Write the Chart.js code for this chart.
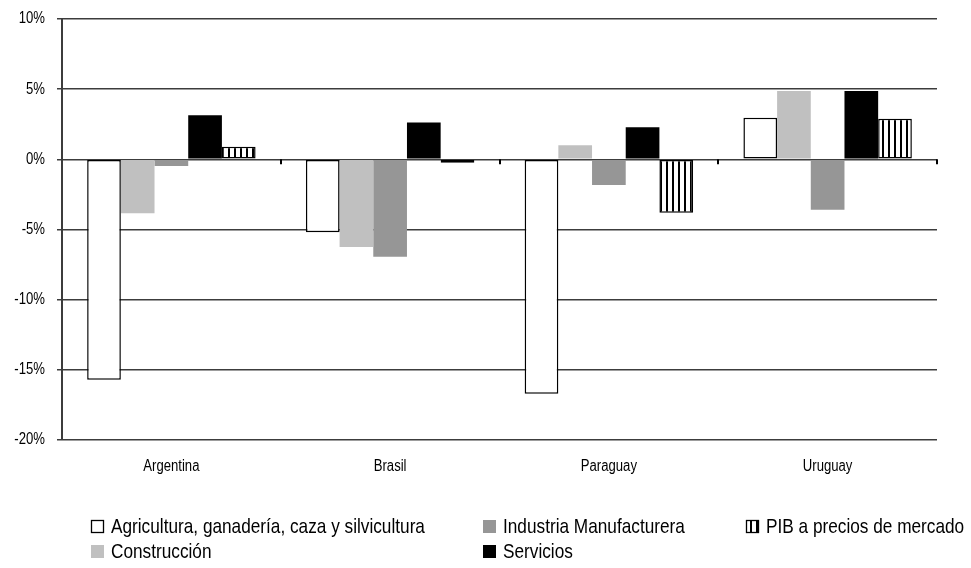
<!DOCTYPE html>
<html>
<head>
<meta charset="utf-8">
<script src="https://cdn.jsdelivr.net/npm/chart.js@4/dist/chart.umd.min.js"></script>
<style>
  html, body { margin: 0; padding: 0; background: #fff; }
  #wrap { width: 971px; height: 568px; }
</style>
</head>
<body>
<div id="wrap"><canvas id="chart" width="971" height="568"></canvas></div>
<script>
// data (growth rates, %)
const countries = ['Argentina', 'Brasil', 'Paraguay', 'Uruguay'];

const agricultura = [-15.7, -5.2, -16.7, 2.97];
const construccion = [-3.85, -6.25, 1.0, 4.87];
const industria = [-0.48, -6.95, -1.83, -3.6];
const servicios = [3.15, 2.63, 2.28, 4.87];
const pib = [0.9, -0.24, -3.8, 2.9];

const yTicks = [10, 5, 0, -5, -10, -15, -20];

// no Arial Narrow here, so squeeze Liberation Sans sideways
const FONT = "'Liberation Sans', Arial, sans-serif";
const SQUEEZE = 0.82;

function narrowText(ctx, text, x, y, size, align){
	ctx.save();
	ctx.font = size + 'px ' + FONT;
	ctx.textBaseline = 'middle';
	ctx.textAlign = align;
	ctx.translate(x, y);
	ctx.scale(SQUEEZE, 1);
	ctx.fillStyle = '#000';
	ctx.fillText(text, 0, 0);
	ctx.restore();
}

// vertical stripe fill for PIB
function stripes(){
	let c = document.createElement('canvas');
	c.width = 6; c.height = 6;
	let g = c.getContext('2d');
	g.fillStyle = '#fff';
	g.fillRect(0, 0, 6, 6);
	g.fillStyle = '#000';
	g.fillRect(0, 0, 2, 6);
	return document.getElementById('chart').getContext('2d').createPattern(c, 'repeat');
}
let pibFill = stripes();

// legend laid out in columns, like the original
const legendCols = [
	[0, 1],   // Agricultura, Construcción
	[2, 3],   // Industria, Servicios
	[4]       // PIB
];
const colX = [91, 483, 746];

const textPlugin = {
	id: 'texts',
	afterDraw(chart){
		let ctx = chart.ctx;
		let ys = chart.scales.y;
		let xs = chart.scales.x;

		// y tick labels
		yTicks.forEach(v => {
			narrowText(ctx, v + '%', xs.left - 17, ys.getPixelForValue(v), 16, 'right');
		});

		// category labels
		countries.forEach((c, i) => {
			narrowText(ctx, c, xs.getPixelForValue(i), chart.chartArea.bottom + 27, 16, 'center');
		});

		// legend
		let ds = chart.data.datasets;
		let top = chart.chartArea.bottom + 87;
		legendCols.forEach((col, ci) => {
			col.forEach((di, row) => {
				let d = ds[di];
				let x = colX[ci];
				let y = top + row * 25;
				ctx.save();
				ctx.fillStyle = d.backgroundColor;
				ctx.fillRect(x, y - 7, 13, 13);
				if (d.borderWidth){
					ctx.strokeStyle = '#000';
					ctx.lineWidth = 1.3;
					ctx.strokeRect(x + 0.5, y - 6.5, 12, 12);
				}
				ctx.restore();
				narrowText(ctx, d.label, x + 20, y, 21, 'left');
			});
		});
	}
};

// small tick marks on the zero line at category borders
const zeroTicks = {
	id: 'zeroTicks',
	afterDatasetsDraw(chart){
		let ctx = chart.ctx;
		let xs = chart.scales.x;
		let y0 = chart.scales.y.getPixelForValue(0);
		ctx.save();
		ctx.strokeStyle = '#000';
		ctx.lineWidth = 2;
		for (let i = 1; i <= countries.length; i++){
			let x = Math.round(xs.left + (xs.right - xs.left) * i / countries.length);
			ctx.beginPath();
			ctx.moveTo(x, y0);
			ctx.lineTo(x, y0 + 5);
			ctx.stroke();
		}
		ctx.restore();
	}
};

let chart = new Chart(document.getElementById('chart'), {
	type: 'bar',
	data: {
		labels: countries,
		datasets: [
			{ label: 'Agricultura, ganadería, caza y silvicultura', data: agricultura, backgroundColor: '#ffffff', borderColor: '#000000', borderWidth: 1.5 },
			{ label: 'Construcción', data: construccion, backgroundColor: '#c0c0c0', borderWidth: 0 },
			{ label: 'Industria Manufacturera', data: industria, backgroundColor: '#969696', borderWidth: 0 },
			{ label: 'Servicios', data: servicios, backgroundColor: '#000000', borderWidth: 0 },
			{ label: 'PIB a precios de mercado', data: pib, backgroundColor: pibFill, borderColor: '#000000', borderWidth: 1.5 }
		]
	},
	options: {
		responsive: false,
		animation: false,
		events: [],
		datasets: {
			bar: { barPercentage: 1, categoryPercentage: 0.77, borderSkipped: false }
		},
		layout: { padding: { left: 0, right: 34, top: 19, bottom: 0 } },
		plugins: {
			legend: { display: false },
			tooltip: { enabled: false }
		},
		scales: {
			x: {
				grid: { display: false, drawTicks: false },
				border: { display: false },
				ticks: { display: false },
				afterFit(scale){ scale.height = 128; }
			},
			y: {
				min: -20,
				max: 10,
				afterBuildTicks(scale){ scale.ticks = yTicks.map(v => ({ value: v })); },
				grid: { color: '#3c3c3c', lineWidth: 1.5, tickLength: 5, tickColor: '#3c3c3c' },
				border: { color: '#3c3c3c', width: 2 },
				ticks: { display: false },
				afterFit(scale){ scale.width = 62; }
			}
		}
	},
	plugins: [textPlugin, zeroTicks]
});
</script>
</body>
</html>
